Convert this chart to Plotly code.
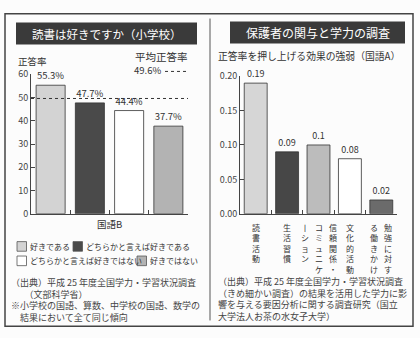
import plotly.graph_objects as go

# ---------------- data ----------------
left_title = "読書は好きですか（小学校）"
left_group = "国語B"
responses = ["好きである", "どちらかと言えば好きである", "どちらかと言えば好きではない", "好きではない"]
rates = [55.3, 47.7, 44.4, 37.7]
avg_rate = 49.6
left_ticks = [0, 10, 20, 30, 40, 50, 60]

right_title = "保護者の関与と学力の調査"
right_subtitle = "正答率を押し上げる効果の強弱（国語A）"
factors = ["読書活動", "生活習慣", "信頼関係・コミュニケーション", "文化的活動", "勉強に対する働きかけ"]
factor_columns = [["読書活動"], ["生活習慣"], ["信頼関係・", "コミュニケ", "丨ション"],
                  ["文化的活動"], ["勉強に対す", "る働きかけ"]]
effects = [0.19, 0.09, 0.1, 0.08, 0.02]
right_ticks = [0.00, 0.05, 0.10, 0.15, 0.20]

left_notes = ["（出典）平成 25 年度全国学力・学習状況調査",
              "　　（文部科学省）",
              "※小学校の国語、算数、中学校の国語、数学の",
              "　結果において全て同じ傾向"]
right_notes = ["（出典）平成 25 年度全国学力・学習状況調査",
               "（きめ細かい調査）の結果を活用した学力に影",
               "響を与える要因分析に関する調査研究（国立",
               "大学法人お茶の水女子大学）"]

# ---------------- style ----------------
W, H = 420, 338
FONT = "Noto Sans CJK JP"
TXT = "#333333"
left_colors = ["#d3d3d3", "#4a4a4a", "#ffffff", "#b3b3b3"]
right_colors = ["#d6d6d6", "#474747", "#bcbcbc", "#ffffff", "#6b6b6b"]

def X(px):
    return px / W

def Y(py):
    return 1 - py / H

fig = go.Figure()

fig.add_trace(go.Bar(
    x=responses, y=rates, xaxis="x", yaxis="y",
    marker=dict(color=left_colors, line=dict(color="#333333", width=0.8)),
    text=[f"{v}%" for v in rates], textposition="outside",
    textfont=dict(family=FONT, size=9.5, color=TXT),
    cliponaxis=False, width=0.74, showlegend=False,
))
fig.add_trace(go.Bar(
    x=factors, y=effects, xaxis="x2", yaxis="y2",
    marker=dict(color=right_colors, line=dict(color="#333333", width=0.8)),
    text=[f"{v:g}" for v in effects], textposition="outside",
    textfont=dict(family=FONT, size=9, color=TXT),
    cliponaxis=False, width=0.73, showlegend=False,
))

axis_common = dict(showline=True, linecolor="#444444", linewidth=1, showgrid=False,
                   zeroline=False, ticks="inside", ticklen=4, tickcolor="#444444")
tickfont = dict(family=FONT, size=9, color="#444444")

fig.update_layout(
    width=W, height=H, margin=dict(l=0, r=0, t=0, b=0),
    paper_bgcolor="#fcfcfc", plot_bgcolor="rgba(0,0,0,0)",
    font=dict(family=FONT, color=TXT),
    showlegend=False,
    xaxis=dict(domain=[X(31), X(188)], type="category", showticklabels=False,
               tickson="boundaries", anchor="y", **axis_common),
    yaxis=dict(domain=[Y(215), Y(70)], range=[0, 60], tickvals=left_ticks,
               tickfont=tickfont, anchor="x", **axis_common),
    xaxis2=dict(domain=[X(240), X(397)], type="category", showticklabels=False,
                tickson="boundaries", anchor="y2", **axis_common),
    yaxis2=dict(domain=[Y(215), Y(72)], range=[0, 0.2], tickvals=right_ticks,
                tickformat=".2f", tickfont=tickfont, anchor="x2", **axis_common),
)

shapes = []
ann = []

# outer frame and divider
shapes.append(dict(type="rect", xref="paper", yref="paper", x0=X(5), x1=X(413), y0=Y(332), y1=Y(7),
                   line=dict(color="#444444", width=1.5)))
shapes.append(dict(type="line", xref="paper", yref="paper", x0=X(210), x1=X(210), y0=Y(326), y1=Y(12),
                   line=dict(color="#555555", width=1)))

# title bars
shapes.append(dict(type="rect", xref="paper", yref="paper", x0=X(16), x1=X(197), y0=Y(39), y1=Y(16),
                   fillcolor="#3a3a3a", line=dict(width=0)))
shapes.append(dict(type="rect", xref="paper", yref="paper", x0=X(230), x1=X(405), y0=Y(38), y1=Y(15),
                   fillcolor="#3a3a3a", line=dict(width=0)))
ann.append(dict(text=left_title, x=X(106.5), y=Y(28), xref="paper", yref="paper", showarrow=False,
                font=dict(family=FONT, size=11.5, color="white"), xanchor="center", yanchor="middle"))
ann.append(dict(text=right_title, x=X(317.5), y=Y(27), xref="paper", yref="paper", showarrow=False,
                font=dict(family=FONT, size=12, color="white"), xanchor="center", yanchor="middle"))

# left panel labels
ann.append(dict(text="正答率", x=X(16), y=Y(56), xref="paper", yref="paper", showarrow=False,
                font=dict(family=FONT, size=9.5, color=TXT), xanchor="left", yanchor="middle"))
ann.append(dict(text="平均正答率", x=X(133), y=Y(51), xref="paper", yref="paper", showarrow=False,
                font=dict(family=FONT, size=10.5, color=TXT), xanchor="left", yanchor="middle"))
ann.append(dict(text=f"{avg_rate}%", x=X(132), y=Y(66), xref="paper", yref="paper", showarrow=False,
                font=dict(family=FONT, size=9.5, color=TXT), xanchor="left", yanchor="middle"))
shapes.append(dict(type="line", xref="paper", yref="paper", x0=X(165), x1=X(188), y0=Y(67), y1=Y(67),
                   line=dict(color="#333333", width=1, dash="dot")))
shapes.append(dict(type="line", xref="x domain", yref="y", x0=0, x1=1, y0=avg_rate, y1=avg_rate,
                   line=dict(color="#333333", width=1, dash="dot")))
ann.append(dict(text=left_group, x=0.5, y=Y(226), xref="x domain", yref="paper", showarrow=False,
                font=dict(family=FONT, size=9.5, color=TXT), xanchor="center", yanchor="middle"))

# manual legend
legend_pos = [(17, 249), (73, 249), (17, 264), (137, 264)]
for name, col, (lx, ly) in zip(responses, left_colors, legend_pos):
    shapes.append(dict(type="rect", xref="paper", yref="paper", x0=X(lx), x1=X(lx + 9.5),
                       y0=Y(ly + 5), y1=Y(ly - 5), fillcolor=col, line=dict(color="#555555", width=0.8)))
    ann.append(dict(text=name, x=X(lx + 10.5), y=Y(ly), xref="paper", yref="paper", showarrow=False,
                    font=dict(family=FONT, size=8, color=TXT), xanchor="left", yanchor="middle"))

# notes
ann.append(dict(text="<br>".join(left_notes), x=X(9), y=Y(305), xref="paper", yref="paper",
                showarrow=False, align="left",
                font=dict(family=FONT, size=9, color="#444444"), xanchor="left", yanchor="middle"))
ann.append(dict(text="<br>".join(right_notes), x=X(216), y=Y(304), xref="paper", yref="paper",
                showarrow=False, align="left",
                font=dict(family=FONT, size=9, color="#444444"), xanchor="left", yanchor="middle"))

# right panel subtitle
ann.append(dict(text=right_subtitle, x=X(216), y=Y(51), xref="paper", yref="paper", showarrow=False,
                font=dict(family=FONT, size=9.8, color=TXT), xanchor="left", yanchor="middle"))

# vertical category labels
for cat, cols in zip(factors, factor_columns):
    n = len(cols)
    for i, c in enumerate(cols):
        ann.append(dict(text="<br>".join(list(c)), x=cat, xref="x2", y=Y(221), yref="paper",
                        xshift=((n - 1) / 2 - i) * 14, showarrow=False,
                        font=dict(family=FONT, size=8, color=TXT), xanchor="center", yanchor="top"))

fig.update_layout(shapes=shapes, annotations=ann)
fig.write_html("out.html")
